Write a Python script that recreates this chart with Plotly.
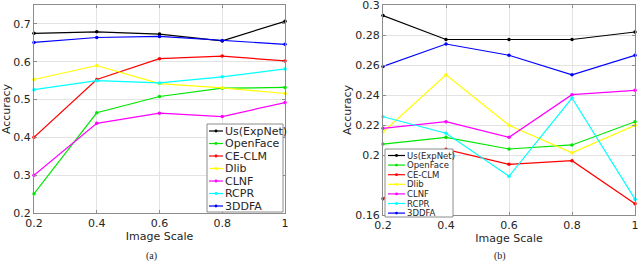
import plotly.graph_objects as go

scales = [0.2, 0.4, 0.6, 0.8, 1.0]
methods = ["Us(ExpNet)", "OpenFace", "CE-CLM", "Dlib", "CLNF", "RCPR", "3DDFA"]
colors = ["#000000", "#00e600", "#ff0000", "#ffff00", "#ff00ff", "#00ffff", "#0000ff"]

# panel (a)
a_expnet = [0.675, 0.679, 0.673, 0.655, 0.707]
a_openface = [0.251, 0.465, 0.508, 0.530, 0.532]
a_ceclm = [0.400, 0.553, 0.608, 0.615, 0.602]
a_dlib = [0.553, 0.590, 0.542, 0.531, 0.516]
a_clnf = [0.300, 0.437, 0.464, 0.455, 0.492]
a_rcpr = [0.526, 0.550, 0.544, 0.560, 0.581]
a_3ddfa = [0.651, 0.664, 0.667, 0.656, 0.646]

# panel (b)
b_expnet = [0.293, 0.277, 0.277, 0.277, 0.282]
b_openface = [0.2073, 0.2118, 0.2040, 0.2067, 0.2222]
b_ceclm = [0.1709, 0.2038, 0.1938, 0.1962, 0.1675]
b_dlib = [0.2153, 0.2535, 0.2198, 0.2015, 0.2198]
b_clnf = [0.2178, 0.2222, 0.2118, 0.2402, 0.2431]
b_rcpr = [0.2255, 0.2145, 0.1858, 0.2380, 0.1705]
b_3ddfa = [0.2590, 0.2740, 0.2665, 0.2535, 0.2665]

x_ticks = [0.2, 0.4, 0.6, 0.8, 1.0]
x_ticktext = ["0.2", "0.4", "0.6", "0.8", "1"]
ya_ticks = [0.2, 0.3, 0.4, 0.5, 0.6, 0.7]
ya_ticktext = ["0.2", "0.3", "0.4", "0.5", "0.6", "0.7"]
yb_ticks = [0.16, 0.2, 0.22, 0.24, 0.26, 0.28, 0.3]
yb_ticktext = ["0.16", "0.2", "0.22", "0.24", "0.26", "0.28", "0.3"]

series_a = [a_expnet, a_openface, a_ceclm, a_dlib, a_clnf, a_rcpr, a_3ddfa]
series_b = [b_expnet, b_openface, b_ceclm, b_dlib, b_clnf, b_rcpr, b_3ddfa]

W, H = 640, 262
MT, MB = 5, 47
PH = H - MT - MB


def px(x):
    return x / W


def py(y):
    return (H - MB - y) / PH


fig = go.Figure()
for name, col, ya, yb in zip(methods, colors, series_a, series_b):
    fig.add_trace(go.Scatter(x=scales, y=ya, mode="lines+markers", name=name,
                             line=dict(color=col, width=1.2),
                             marker=dict(color=col, size=3.5),
                             xaxis="x", yaxis="y", showlegend=False, cliponaxis=False))
    fig.add_trace(go.Scatter(x=scales, y=yb, mode="lines+markers", name=name,
                             line=dict(color=col, width=1.2),
                             marker=dict(color=col, size=3.5),
                             xaxis="x2", yaxis="y2", showlegend=False, cliponaxis=False))

FONT = "DejaVu Sans"
TXT = "#262626"
GRID = "#e3e3e3"
LINE = "#8c8c8c"

common_x = dict(range=[0.2, 1.0], tickvals=x_ticks, ticktext=x_ticktext,
                showgrid=True, gridcolor=GRID, gridwidth=1, zeroline=False,
                showline=True, linecolor=LINE, linewidth=1, mirror="ticks",
                ticks="inside", ticklen=3, tickcolor=LINE, automargin=False,
                ticklabeloverflow="allow",
                tickfont=dict(family=FONT, size=11, color=TXT),
                title=dict(text="Image Scale", font=dict(family=FONT, size=11, color=TXT), standoff=3))
common_y = dict(showgrid=True, gridcolor=GRID, gridwidth=1, zeroline=False,
                showline=True, linecolor=LINE, linewidth=1, mirror="ticks",
                ticks="inside", ticklen=3, tickcolor=LINE, automargin=False,
                ticklabeloverflow="allow",
                tickfont=dict(family=FONT, size=11, color=TXT),
                title=dict(text="Accuracy", font=dict(family=FONT, size=11, color=TXT), standoff=1))

fig.update_layout(
    width=W, height=H,
    margin=dict(l=0, r=0, t=MT, b=MB),
    paper_bgcolor="white", plot_bgcolor="white",
    showlegend=False,
    xaxis=dict(domain=[px(34), px(285)], anchor="y", **common_x),
    yaxis=dict(domain=[py(213), 1], anchor="x", range=[0.2, 0.75],
               tickvals=ya_ticks, ticktext=ya_ticktext, **common_y),
    xaxis2=dict(domain=[px(383), px(635)], anchor="y2", **common_x),
    yaxis2=dict(domain=[0, 1], anchor="x2", range=[0.16, 0.3],
                tickvals=yb_ticks, ticktext=yb_ticktext, **common_y),
)

shapes = []
annotations = []


def add_legend(box, x0, x1, xt, y_first, step, fsize):
    bx0, by0, bx1, by1 = box
    shapes.append(dict(type="rect", xref="paper", yref="paper",
                       x0=px(bx0), x1=px(bx1), y0=py(by1), y1=py(by0),
                       fillcolor="white", line=dict(color=LINE, width=1), layer="above"))
    for i, (name, col) in enumerate(zip(methods, colors)):
        yy = y_first + i * step
        shapes.append(dict(type="line", xref="paper", yref="paper",
                           x0=px(x0), x1=px(x1), y0=py(yy), y1=py(yy),
                           line=dict(color=col, width=1.2), layer="above"))
        xm = (x0 + x1) / 2
        r = 1.4
        shapes.append(dict(type="circle", xref="paper", yref="paper",
                           x0=px(xm - r), x1=px(xm + r), y0=py(yy + r), y1=py(yy - r),
                           fillcolor=col, line=dict(color=col, width=0), layer="above"))
        annotations.append(dict(text=name, xref="paper", yref="paper",
                                x=px(xt), y=py(yy), xanchor="left", yanchor="middle",
                                showarrow=False,
                                font=dict(family=FONT, size=fsize, color=TXT)))


add_legend((207, 124, 283, 212), 209, 223, 223, 131, 12.5, 11)
add_legend((385, 149, 453, 217), 388, 405, 405, 155.5, 9.6, 8.5)

annotations.append(dict(text="(a)", xref="paper", yref="paper", x=px(151), y=py(256),
                        xanchor="center", yanchor="middle", showarrow=False,
                        font=dict(family="Liberation Serif", size=10, color="#222222")))
annotations.append(dict(text="(b)", xref="paper", yref="paper", x=px(500), y=py(256),
                        xanchor="center", yanchor="middle", showarrow=False,
                        font=dict(family="Liberation Serif", size=10, color="#222222")))

fig.update_layout(shapes=shapes, annotations=annotations)
fig.write_html("out.html", config={"displayModeBar": False},
               post_script="document.body.style.margin='0px';document.body.style.overflow='hidden';")
